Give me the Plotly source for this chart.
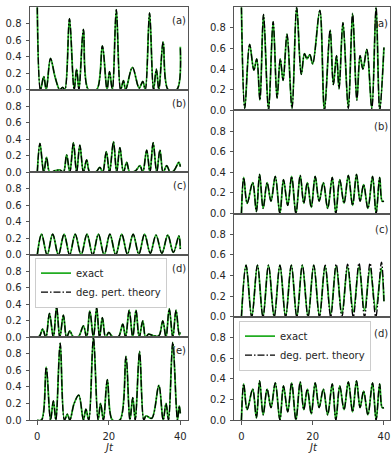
import plotly.graph_objects as go

# ---------------- data ----------------
la_t = [0, 0.9, 1.8, 2.5, 3.7, 5.0, 6.3, 7.1, 7.7, 9.0, 10.3, 11.0, 11.65, 12.9, 14.3, 16.6, 18.2, 19.5, 20.2, 21.0,
        22.1, 23.3, 24.1, 24.7, 26.6, 28.5, 29.5, 30.2, 31.4, 32.5, 33.3, 34.0, 35.2, 36.6, 39.0, 40.0]
la_y = [1.0, 0.0, 0.16, 0.0, 0.38, 0.15, 0.0, 0.03, 0.0, 0.86, 0.0, 0.25, 0.0, 0.73, 0.0, 0.0, 0.53, 0.0, 0.22, 0.0,
        0.97, 0.0, 0.11, 0.0, 0.27, 0.02, 0.10, 0.0, 0.93, 0.0, 0.25, 0.0, 0.58, 0.0, 0.0, 0.52]

lb_t = [0, 0.75, 1.8, 2.6, 3.5, 5.0, 6.3, 7.3, 8.2, 9.1, 10.1, 11.0, 11.9, 12.9, 13.8, 14.7, 16.5, 17.5, 18.3, 19.3,
        20.2, 21.3, 22.2, 23.1, 24.1, 25.0, 25.9, 27.5, 28.7, 29.5, 30.6, 31.5, 32.4, 33.4, 34.3, 35.2, 36.2, 37.2,
        38.2, 39.6, 40.0]
lb_y = [0.0, 0.35, 0.0, 0.18, 0.0, 0.02, 0.03, 0.0, 0.21, 0.0, 0.36, 0.0, 0.33, 0.0, 0.15, 0.0, 0.01, 0.06, 0.0, 0.25,
        0.0, 0.37, 0.0, 0.30, 0.0, 0.12, 0.0, 0.02, 0.08, 0.0, 0.27, 0.0, 0.36, 0.0, 0.27, 0.0, 0.08, 0.0,
        0.02, 0.12, 0.07]

lc_t = [0, 1.2, 2.75, 4.3, 5.9, 7.5, 9.05, 10.6, 12.25, 13.9, 15.5, 17.1, 18.7, 20.3, 21.95, 23.6, 25.2, 26.8, 28.4,
        30.0, 31.6, 33.2, 34.85, 36.5, 38.05, 39.6, 40.0]
lc_y = [0.0, 0.25, 0.0, 0.25, 0.0, 0.25, 0.0, 0.25, 0.0, 0.25, 0.0, 0.25, 0.0, 0.25, 0.0, 0.25, 0.01, 0.25, 0.01,
        0.25, 0.02, 0.24, 0.02, 0.24, 0.03, 0.23, 0.07]

ld_t = [0, 0.7, 1.5, 2.4, 3.4, 4.5, 5.4, 6.3, 7.3, 8.2, 9.1, 10.0, 11.5, 12.9, 13.8, 14.7, 15.7, 16.6, 17.4, 18.2,
        19.1, 20.0, 21.0, 22.7, 23.9, 24.7, 25.7, 26.7, 27.6, 28.5, 29.5, 30.3, 31.1, 32.5, 34.0, 35.1, 36.0, 36.9,
        37.9, 38.8, 39.7, 40.0]
ld_y = [0.0, 0.02, 0.10, 0.0, 0.29, 0.0, 0.37, 0.0, 0.27, 0.0, 0.08, 0.01, 0.01, 0.14, 0.0, 0.32, 0.0, 0.36, 0.0, 0.24,
        0.0, 0.06, 0.01, 0.01, 0.16, 0.0, 0.33, 0.0, 0.33, 0.0, 0.20, 0.0, 0.04, 0.02, 0.02, 0.20, 0.0, 0.35,
        0.0, 0.33, 0.03, 0.06]

le_t = [0, 1.2, 2.5, 3.7, 4.5, 5.2, 6.4, 7.6, 8.4, 9.1, 10.3, 11.6, 12.9, 13.6, 14.4, 15.7, 17.0, 17.7, 18.5, 19.6,
        21.0, 23.1, 24.8, 25.9, 26.7, 27.4, 28.6, 29.8, 30.4, 32.0, 34.0, 35.2, 36.0, 36.7, 37.9, 39.2, 39.7, 40.0]
le_y = [0.0, 0.0, 0.64, 0.0, 0.23, 0.0, 0.93, 0.0, 0.07, 0.0, 0.20, 0.30, 0.0, 0.13, 0.0, 1.0, 0.0, 0.20, 0.0, 0.49,
        0.0, 0.0, 0.77, 0.0, 0.27, 0.0, 0.83, 0.0, 0.05, 0.02, 0.42, 0.0, 0.20, 0.0, 0.94, 0.0, 0.17, 0.08]

ra_t = [0, 0.93, 2.3, 3.5, 4.3, 5.2, 6.2, 7.6, 8.9, 10.0, 10.9, 11.7, 12.8, 14.2, 15.5, 16.8, 17.7, 18.4, 19.2, 20.0,
        22.0, 23.3, 24.9, 25.8, 26.7, 27.4, 28.5, 30.0, 31.2, 32.4, 33.3, 34.1, 35.2, 36.6, 37.8, 38.8, 40.0]
ra_y = [1.0, 0.02, 0.64, 0.39, 0.50, 0.10, 0.93, 0.0, 0.86, 0.12, 0.50, 0.29, 0.74, 0.02, 1.0, 0.35, 0.55, 0.50, 0.54,
        0.45, 0.97, 0.0, 0.78, 0.25, 0.53, 0.21, 0.85, 0.02, 0.94, 0.10, 0.53, 0.40, 0.59, 0.02, 1.0, 0.0, 0.61]

rb_t = [0, 0.64, 1.6, 3.16, 4.2, 5.1, 6.1, 7.2, 8.3, 9.5, 10.8, 11.8, 13.0, 14.1, 15.3, 16.5, 17.5, 18.5, 19.6, 20.7,
        21.8, 23.0, 24.2, 25.5, 26.5, 27.6, 28.8, 30.0, 31.2, 32.3, 33.3, 34.3, 35.5, 36.8, 37.8, 38.8, 39.5, 40.0]
rb_y = [0.0, 0.35, 0.10, 0.30, 0.02, 0.38, 0.05, 0.30, 0.12, 0.36, 0.0, 0.33, 0.08, 0.36, 0.0, 0.37, 0.10, 0.30, 0.06,
        0.36, 0.12, 0.30, 0.05, 0.35, 0.0, 0.33, 0.10, 0.37, 0.08, 0.38, 0.12, 0.28, 0.05, 0.36, 0.0, 0.35, 0.12, 0.12]

rc_t = [0, 1.3, 2.9, 4.5, 6.05, 7.6, 9.2, 10.8, 12.4, 14.0, 15.55, 17.1, 18.7, 20.3, 21.9, 23.5, 25.05, 26.6, 28.2,
        29.8, 31.4, 33.0, 34.55, 36.1, 37.7, 39.3, 40.0]
rc_exact = [0.0, 0.50, 0.0, 0.50, 0.0, 0.50, 0.0, 0.50, 0.0, 0.50, 0.0, 0.50, 0.0, 0.50, 0.01, 0.49, 0.03, 0.49, 0.03,
            0.48, 0.05, 0.48, 0.06, 0.47, 0.07, 0.47, 0.15]
rc_pert = [0.0, 0.50, 0.0, 0.50, 0.0, 0.50, 0.0, 0.50, 0.0, 0.50, 0.0, 0.50, 0.0, 0.50, 0.0, 0.50, 0.0, 0.51, 0.0,
           0.51, 0.0, 0.52, 0.0, 0.52, 0.0, 0.53, 0.15]

rd_t = rb_t
rd_y = rb_y

panel_labels_left = ["(a)", "(b)", "(c)", "(d)", "(e)"]
panel_labels_right = ["(a)", "(b)", "(c)", "(d)"]
y_tick_vals = [0.0, 0.2, 0.4, 0.6, 0.8]
y_tick_text = ["0.0", "0.2", "0.4", "0.6", "0.8"]
x_tick_vals = [0, 20, 40]
x_tick_text = ["0", "20", "40"]

# ---------------- layout geometry ----------------
W, H = 391, 456
TOP, BOT = 7.3, 425.6
GREEN = "#22ac22"
AXC = "#555555"
FONT = "DejaVu Sans"

left_panels = [(la_t, la_y, la_y), (lb_t, lb_y, lb_y), (lc_t, lc_y, lc_y), (ld_t, ld_y, ld_y), (le_t, le_y, le_y)]
right_panels = [(ra_t, ra_y, ra_y), (rb_t, rb_y, rb_y), (rc_t, rc_exact, rc_pert), (rd_t, rd_y, rd_y)]

fig = go.Figure()
layout = dict(width=W, height=H, margin=dict(l=0, r=0, t=0, b=0),
              paper_bgcolor="white", plot_bgcolor="white",
              font=dict(family=FONT, size=10, color="#262626"),
              showlegend=True, annotations=[])

def add_panel(idx, col, k, n, t, ye, yp, legend_name):
    ph = (BOT - TOP) / n
    top_px = TOP + k * ph
    bot_px = top_px + ph
    ydom = [1 - bot_px / H, 1 - top_px / H]
    if col == 0:
        xdom = [30 / W, 188 / W]
        xr = [-2.04, 42.15]
    else:
        xdom = [234.3 / W, 390.0 / W]
        xr = [-2.0, 41.7]
    bottom = (k == n - 1)
    sfx = "" if idx == 1 else str(idx)
    layout["xaxis" + sfx] = dict(domain=xdom, range=xr, anchor="y" + sfx, showgrid=False, zeroline=False,
                                 showline=True, mirror=True, linecolor=AXC, linewidth=1,
                                 ticks="outside" if bottom else "", ticklen=3.5, tickcolor=AXC,
                                 tickvals=x_tick_vals if bottom else [], ticktext=x_tick_text if bottom else [],
                                 showticklabels=bottom, ticklabeloverflow="allow", ticklabelstandoff=3,
                                 tickfont=dict(size=10, color="#262626"))
    layout["yaxis" + sfx] = dict(domain=ydom, range=[0, 1.0], anchor="x" + sfx, showgrid=False, zeroline=False,
                                 showline=True, mirror=True, linecolor=AXC, linewidth=1,
                                 ticks="outside", ticklen=3.5, tickcolor=AXC,
                                 tickvals=y_tick_vals, ticktext=y_tick_text, ticklabelstandoff=2,
                                 tickfont=dict(size=10, color="#262626"))
    show_leg = legend_name is not None
    fig.add_trace(go.Scatter(x=t, y=ye, mode="lines", line=dict(color=GREEN, width=1.8, shape="spline", smoothing=1),
                             name="exact", showlegend=show_leg, legend=legend_name or "legend",
                             xaxis="x" + sfx, yaxis="y" + sfx, hoverinfo="skip"))
    fig.add_trace(go.Scatter(x=t, y=yp, mode="lines",
                             line=dict(color="black", width=1.3, dash="7px,2px,1.5px,2px", shape="spline", smoothing=1),
                             name="deg. pert. theory", showlegend=show_leg, legend=legend_name or "legend",
                             xaxis="x" + sfx, yaxis="y" + sfx, hoverinfo="skip"))
    # panel label
    lab = panel_labels_left[k] if col == 0 else panel_labels_right[k]
    xlab = 187.5 / W if col == 0 else 389.5 / W
    ylab = 1 - (top_px + (13.7 if col == 0 else 16.5)) / H
    layout["annotations"].append(dict(text=lab, x=xlab, y=ylab, xref="paper", yref="paper",
                                      xanchor="right", yanchor="middle", showarrow=False,
                                      font=dict(size=10, color="#262626")))

idx = 1
for k, (t, ye, yp) in enumerate(left_panels):
    add_panel(idx, 0, k, 5, t, ye, yp, "legend" if k == 3 else None)
    idx += 1
for k, (t, ye, yp) in enumerate(right_panels):
    add_panel(idx, 1, k, 4, t, ye, yp, "legend2" if k == 3 else None)
    idx += 1

# axis titles
for xc in (109.0, 313.0):
    layout["annotations"].append(dict(text="<i>Jt</i>", x=xc / W, y=1 - 453 / H, xref="paper", yref="paper",
                                      xanchor="center", yanchor="middle", showarrow=False,
                                      font=dict(size=10, color="#262626")))

leg_common = dict(bgcolor="rgba(255,255,255,0.9)", bordercolor="#cccccc", borderwidth=1,
                  font=dict(size=10, color="#262626"), xanchor="left", yanchor="top",
                  tracegroupgap=0, itemwidth=30)
layout["legend"] = dict(x=35 / W, y=1 - 261 / H, **leg_common)
layout["legend2"] = dict(x=239 / W, y=1 - 325 / H, **leg_common)

fig.update_layout(**layout)
fig.write_html("out.html", config={"displayModeBar": False, "staticPlot": True},
               post_script="document.body.style.margin='0';document.body.style.padding='0';"
                           "document.body.style.overflow='hidden';")
